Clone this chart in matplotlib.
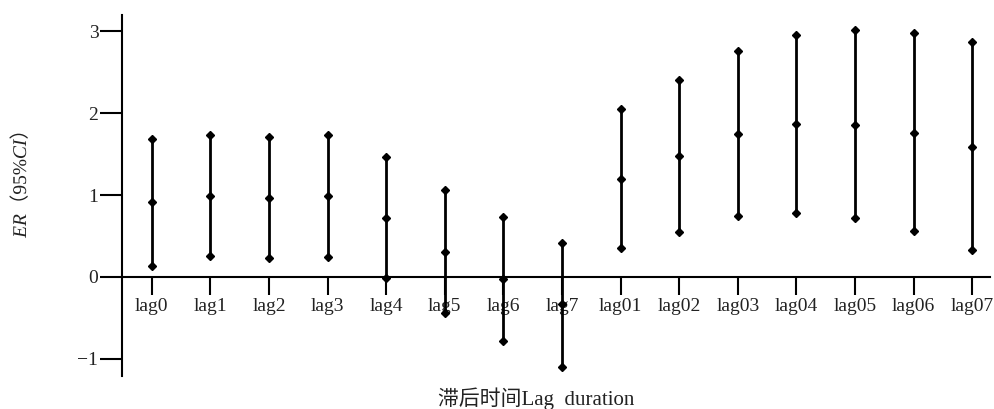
import matplotlib
matplotlib.use('Agg')
from matplotlib import pyplot as plt
from matplotlib.textpath import TextPath
from matplotlib.patches import PathPatch
from matplotlib.font_manager import FontProperties
from matplotlib.transforms import Affine2D
import numpy as np

#----------------------------------
# Data
lags = ['lag0', 'lag1', 'lag2', 'lag3', 'lag4', 'lag5', 'lag6', 'lag7',
        'lag01', 'lag02', 'lag03', 'lag04', 'lag05', 'lag06', 'lag07']
er = [0.915, 0.99, 0.963, 0.984, 0.72, 0.31, -0.02, -0.33,
      1.20, 1.48, 1.75, 1.866, 1.862, 1.765, 1.59]
ci_low = [0.14, 0.26, 0.23, 0.25, -0.01, -0.435, -0.78, -1.10,
          0.35, 0.55, 0.745, 0.785, 0.72, 0.56, 0.33]
ci_high = [1.69, 1.735, 1.71, 1.735, 1.467, 1.06, 0.73, 0.42,
           2.05, 2.41, 2.765, 2.96, 3.02, 2.98, 2.87]
yticks = [-1, 0, 1, 2, 3]

serif = ['Liberation Serif', 'Noto Sans CJK SC']
plt.rcParams['font.family'] = serif

#----------------------------------
fig = plt.figure(figsize=(9.94, 4.09), dpi=100)
ax = fig.add_axes([0.1227, 0.0807, 0.873, 0.8823])

x = np.arange(len(lags))
ax.vlines(x, ci_low, ci_high, color='black', linewidth=2, zorder=3)
for ys in (ci_low, er, ci_high):
    ax.plot(x, ys, linestyle='none', marker='D', markersize=4.5,
            color='black', zorder=4, clip_on=False)

ax.set_xlim(-0.51, 14.3)
ax.set_ylim(-1.21, 3.2)

ax.spines['top'].set_visible(False)
ax.spines['right'].set_visible(False)
ax.spines['bottom'].set_position(('data', 0))
for s in ('left', 'bottom'):
    ax.spines[s].set_linewidth(1.5)

ax.set_xticks(x)
ax.set_xticklabels(lags)
ax.set_yticks(yticks)
ax.set_yticklabels([str(v).replace('-', '\u2212') for v in yticks])
ax.tick_params(axis='x', direction='out', length=13, width=1.5, pad=2,
               labelsize=14, colors='black', labelcolor='#222222')
ax.tick_params(axis='y', direction='out', length=16, width=1.5, pad=1,
               labelsize=14, colors='black', labelcolor='#222222')

fig.text(0.539, 0.025, '滞后时间Lag  duration', ha='center', va='center',
         fontsize=15, family=serif, color='#222222')

#----------------------------------
# y label: italic ER / CI and full-width brackets, drawn as rotated text paths
pieces = [('ER', 'italic', serif), ('（', 'normal', ['Noto Sans CJK SC']),
          ('95%', 'normal', serif), ('CI', 'italic', serif),
          ('）', 'normal', ['Noto Sans CJK SC'])]
renderer = fig.canvas.get_renderer()
size_pt = 14
size_px = size_pt * fig.dpi / 72
paths = []
offset = 0
for s, st, fam in pieces:
    fp = FontProperties(family=fam, style=st, size=size_pt)
    paths.append(TextPath((offset, 0), s, size=size_px, prop=fp))
    w, h, d = renderer.get_text_width_height_descent(s, fp, ismath=False)
    offset += w
bx = 26                      # baseline x in pixels
by = 230 - offset / 2        # start of label in pixels from bottom
tr = Affine2D().rotate_deg(90).translate(bx, by)
for p in paths:
    fig.add_artist(PathPatch(p, transform=tr, facecolor='#222222',
                             edgecolor='none'))

fig.savefig('out.png', dpi=100)
